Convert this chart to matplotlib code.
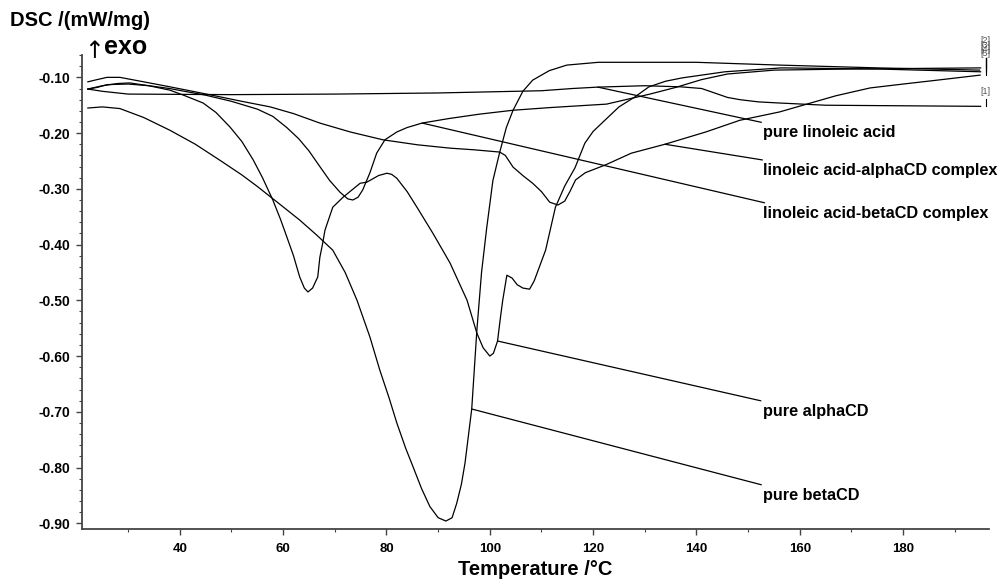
import numpy as np
import matplotlib
matplotlib.use('Agg')
import matplotlib.pyplot as plt
from matplotlib.ticker import MultipleLocator, FormatStrFormatter

plt.rcParams['font.family'] = ['Liberation Sans', 'DejaVu Sans']
plt.rcParams['axes.unicode_minus'] = False

# DSC traces: temperature (degC) and heat flow (mW/mg)
t_linoleic = [22.2, 25, 30, 50, 70, 90, 100, 110, 116, 120.9, 130, 137, 141, 143.5,
              146, 148.4, 152, 156, 165, 180, 195]
dsc_linoleic = [-0.121, -0.125, -0.130, -0.131, -0.130, -0.128, -0.126, -0.124, -0.120,
                -0.1175, -0.115, -0.117, -0.120, -0.128, -0.136, -0.140, -0.144, -0.146,
                -0.150, -0.151, -0.152]

t_alpha_cx = [22.2, 24, 25.9, 28.4, 33, 38.1, 43, 47.8, 52, 57.5, 62, 67.1, 73, 79.3, 86,
              92.3, 97, 101.9, 103, 104.5, 106.5, 108.3, 110, 111.6, 113.2, 114.5, 115.5,
              116.6, 118.5, 122.4, 127.4, 133.9, 141.8, 148.4, 156.1, 160.6, 167, 173.6,
              180, 186.6, 194.9]
dsc_alpha_cx = [-0.108, -0.104, -0.100, -0.100, -0.108, -0.117, -0.126, -0.135, -0.143,
                -0.153, -0.165, -0.182, -0.198, -0.212, -0.221, -0.227, -0.230, -0.234,
                -0.240, -0.261, -0.277, -0.290, -0.305, -0.324, -0.329, -0.322, -0.305,
                -0.284, -0.271, -0.257, -0.236, -0.220, -0.198, -0.177, -0.162, -0.150,
                -0.133, -0.119, -0.112, -0.105, -0.096]

t_beta_cx = [22.2, 24, 26, 30, 34, 38, 45, 50, 55, 58, 60.7, 63, 65, 67.1, 69, 71, 72.5,
             73.5, 74.5, 75.4, 76.8, 78.1, 79.7, 82, 84, 86.9, 92, 98, 104.5, 112, 122.6,
             131, 136, 141, 146, 155, 170, 195]
dsc_beta_cx = [-0.121, -0.118, -0.113, -0.112, -0.115, -0.120, -0.132, -0.143, -0.157,
               -0.170, -0.190, -0.210, -0.232, -0.260, -0.285, -0.306, -0.318, -0.320,
               -0.315, -0.302, -0.271, -0.236, -0.212, -0.198, -0.190, -0.182, -0.174,
               -0.166, -0.159, -0.154, -0.148, -0.130, -0.118, -0.104, -0.094, -0.087,
               -0.085, -0.083]

t_alpha = [22.2, 25, 28, 30.3, 34, 38.1, 41, 44.5, 47, 49.7, 52, 54.2, 56, 58, 59.5, 60.7,
           62, 63.2, 64.1, 64.8, 65.7, 66.7, 67.1, 67.6, 68.1, 69.6, 71.6, 74.9, 76.2, 78.5,
           80.1, 81, 82, 84, 85.9, 89, 92.3, 95.6, 97.5, 98.7, 100, 100.7, 101.5, 102,
           102.5, 103.3, 104.3, 105.3, 106.4, 107.7, 108.6, 109.6, 110.8, 112.7, 114.5,
           116.5, 118.4, 120, 121.7, 125, 128.1, 130.8, 134, 137.2, 145.5, 156.5, 175, 195]
dsc_alpha = [-0.121, -0.115, -0.111, -0.110, -0.115, -0.123, -0.133, -0.146, -0.163, -0.189,
             -0.215, -0.248, -0.280, -0.320, -0.355, -0.386, -0.420, -0.458, -0.478, -0.485,
             -0.478, -0.458, -0.423, -0.400, -0.374, -0.333, -0.315, -0.290, -0.288, -0.276,
             -0.272, -0.274, -0.281, -0.305, -0.333, -0.380, -0.433, -0.500, -0.559, -0.585,
             -0.600, -0.595, -0.573, -0.535, -0.500, -0.455, -0.460, -0.472, -0.478, -0.480,
             -0.465, -0.440, -0.410, -0.333, -0.295, -0.262, -0.218, -0.197, -0.182, -0.153,
             -0.135, -0.117, -0.107, -0.101, -0.090, -0.083, -0.085, -0.090]

t_beta = [22.2, 25, 28.4, 33, 38.1, 43, 47.8, 52, 54.9, 59, 63.2, 66.5, 69.6, 72, 74.3,
          76.8, 78.7, 80.5, 82, 83.7, 85.2, 86.8, 88.4, 90, 91.5, 92.7, 93.6, 94.5, 95.2,
          96.5, 97.5, 98.4, 99.4, 100.6, 101.9, 103.2, 104.5, 106.4, 108.3, 111.5, 114.9,
          121, 140, 156.1, 175, 194.8]
dsc_beta = [-0.155, -0.153, -0.156, -0.172, -0.195, -0.220, -0.249, -0.275, -0.295, -0.325,
            -0.356, -0.383, -0.410, -0.450, -0.500, -0.566, -0.625, -0.675, -0.720, -0.765,
            -0.800, -0.838, -0.870, -0.890, -0.896, -0.890, -0.864, -0.830, -0.792, -0.695,
            -0.553, -0.450, -0.370, -0.285, -0.235, -0.190, -0.159, -0.125, -0.105, -0.088,
            -0.078, -0.073, -0.073, -0.078, -0.083, -0.087]

names = ['pure linoleic acid', 'linoleic acid-alphaCD complex',
         'linoleic acid-betaCD complex', 'pure alphaCD', 'pure betaCD']
series = [(t_linoleic, dsc_linoleic), (t_alpha_cx, dsc_alpha_cx), (t_beta_cx, dsc_beta_cx),
          (t_alpha, dsc_alpha), (t_beta, dsc_beta)]
# temperature where each leader line touches its curve
anchor_t = [120.9, 133.9, 86.9, 101.5, 96.5]
# label centre heights (figure fraction)
label_y = [0.771, 0.706, 0.632, 0.290, 0.145]

fig = plt.figure(figsize=(10.07, 5.79), dpi=100)
ax = fig.add_axes([0.0811, 0.0869, 0.9009, 0.818])

for t, v in series:
    ax.plot(t, v, color='black', lw=0.9)

ax.set_xlim(21.0, 196.6)
ax.set_ylim(-0.9097, -0.06)

ax.xaxis.set_major_locator(MultipleLocator(20))
ax.xaxis.set_minor_locator(MultipleLocator(10))
ax.yaxis.set_major_locator(MultipleLocator(0.1))
ax.yaxis.set_minor_locator(MultipleLocator(0.02))
ax.yaxis.set_major_formatter(FormatStrFormatter('%.2f'))
ax.set_xticks([40, 60, 80, 100, 120, 140, 160, 180])

for s in ['top', 'right']:
    ax.spines[s].set_visible(False)
for s in ['left', 'bottom']:
    ax.spines[s].set_color('#444444')
    ax.spines[s].set_linewidth(1.3)
ax.tick_params(which='major', length=4, width=1.0, color='#444444', labelsize=10, pad=4)
ax.tick_params(which='minor', length=2.5, width=0.8, color='#444444')
ax.tick_params(axis='x', which='major', pad=6, labelsize=9.5)
for lab in ax.get_xticklabels() + ax.get_yticklabels():
    lab.set_fontweight('bold')

ax.set_xlabel('Temperature /°C', fontsize=14.5, fontweight='bold', labelpad=4)
fig.text(0.010, 0.965, 'DSC /(mW/mg)', fontsize=14.5, fontweight='bold', va='center')
fig.text(0.093, 0.912, '↑', fontsize=17, va='center', ha='center', family='DejaVu Sans')
fig.text(0.103, 0.918, 'exo', fontsize=18, fontweight='bold', va='center')

# leader lines and curve names
for (t, v), name, ta, ly in zip(series, names, anchor_t, label_y):
    yv = np.interp(ta, t, v)
    ax.annotate(name, xy=(ta, yv), xycoords='data',
                xytext=(0.758, ly), textcoords='figure fraction',
                fontsize=11.7, fontweight='bold', ha='left', va='center',
                arrowprops=dict(arrowstyle='-', color='black', lw=0.9,
                                shrinkA=0, shrinkB=0, relpos=(0.03, 1.1)))

# segment markers at the right-hand ends
t1, v1 = series[0]
ax.plot([196.0, 196.0], [v1[-1], v1[-1] + 0.014], color='black', lw=0.8, clip_on=False)
ax.text(196.0, v1[-1] + 0.018, '[1]', fontsize=6.5, color='#555555',
        ha='center', va='bottom', clip_on=False)
for t, v in series[1:]:
    ax.plot([196.0, 196.0], [v[-1], -0.066], color='black', lw=0.8, clip_on=False)
ax.text(196.0, -0.066, '[2]\n[3]\n[4]\n[5]', fontsize=6.5, color='#555555',
        ha='center', va='bottom', linespacing=0.35, clip_on=False)

fig.savefig('out.png', dpi=100)
